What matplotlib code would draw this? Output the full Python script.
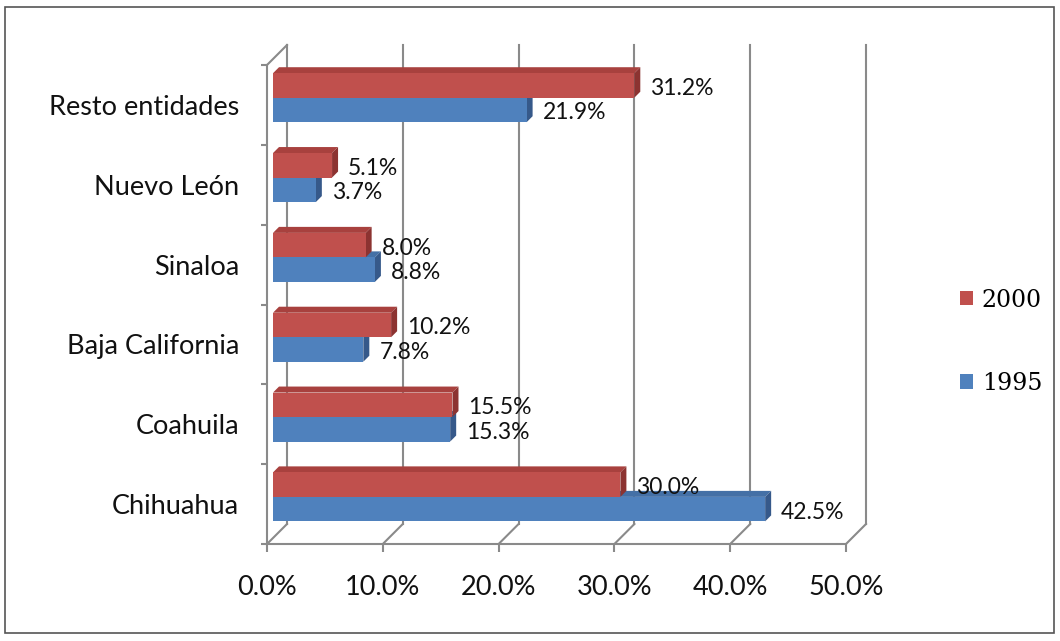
import matplotlib.pyplot as plt
from matplotlib.patches import Polygon, Patch, Rectangle

# Data
categories = ["Chihuahua", "Coahuila", "Baja California", "Sinaloa",
              "Nuevo León", "Resto entidades"]
values_2000 = [30.0, 15.5, 10.2, 8.0, 5.1, 31.2]
values_1995 = [42.5, 15.3, 7.8, 8.8, 3.7, 21.9]
x_ticks = [0, 10, 20, 30, 40, 50]
x_tick_labels = ["0.0%", "10.0%", "20.0%", "30.0%", "40.0%", "50.0%"]
series_labels = ["2000", "1995"]

# Styling
RED = "#C0504D"
RED_TOP = "#A8413E"
RED_SIDE = "#8C3331"
BLUE = "#4F81BD"
BLUE_TOP = "#4470A6"
BLUE_SIDE = "#36598A"
AXIS_COLOR = "#8A8A8A"
TEXT_COLOR = "#111111"
FONT = ["Lato", "DejaVu Sans"]

W, H, DPI = 1060, 641, 100
# front plane of the plot, in pixels (image coordinates)
LEFT_PX, RIGHT_PX, TOP_PX, BOTTOM_PX = 267, 846, 65, 544

XMIN, XMAX = 0, 50
YMIN, YMAX = -0.5, len(categories) - 0.5
PX_X = (XMAX - XMIN) / (RIGHT_PX - LEFT_PX)   # data units per pixel
PX_Y = (YMAX - YMIN) / (BOTTOM_PX - TOP_PX)

WALL_DEPTH = 20        # px offset of the back wall
BAR_SHIFT = 6          # px offset of the bar front face
BAR_DEPTH = 6          # px depth of the bars
BAR_H = 24.5 * PX_Y

fig = plt.figure(figsize=(W / DPI, H / DPI), dpi=DPI)
ax = fig.add_axes([LEFT_PX / W, 1 - BOTTOM_PX / H,
                   (RIGHT_PX - LEFT_PX) / W, (BOTTOM_PX - TOP_PX) / H])
ax.set_xlim(XMIN, XMAX)
ax.set_ylim(YMIN, YMAX)
ax.patch.set_visible(False)

wx, wy = WALL_DEPTH * PX_X, WALL_DEPTH * PX_Y

# back wall gridlines and floor diagonals
for xv in x_ticks:
    ax.plot([xv + wx, xv + wx], [YMIN + wy, YMAX + wy], color=AXIS_COLOR,
            lw=1.5, clip_on=False, zorder=1)
    ax.plot([xv, xv + wx], [YMIN, YMIN + wy], color=AXIS_COLOR,
            lw=1.5, clip_on=False, zorder=1)
ax.plot([0, wx], [YMAX, YMAX + wy], color=AXIS_COLOR, lw=1.5,
        clip_on=False, zorder=1)


def draw_bar(val, y0, face, top, side):
    bx, by = BAR_SHIFT * PX_X, BAR_SHIFT * 1.2 * PX_Y
    dx, dy = BAR_DEPTH * PX_X, BAR_DEPTH * PX_Y
    x0, x1 = bx, bx + val
    b, t = y0 + by, y0 + by + BAR_H
    ax.add_patch(Polygon([(x0, t), (x1, t), (x1 + dx, t + dy), (x0 + dx, t + dy)],
                         closed=True, fc=top, ec="none", zorder=3,
                         clip_on=False))
    ax.add_patch(Polygon([(x1, b), (x1, t), (x1 + dx, t + dy), (x1 + dx, b + dy)],
                         closed=True, fc=side, ec="none", zorder=3,
                         clip_on=False))
    ax.add_patch(Rectangle((x0, b), val, BAR_H, fc=face, ec="none",
                           zorder=3, clip_on=False))
    ax.text(x1 + dx + 10 * PX_X, (b + t) / 2 - 3 * PX_Y, f"{val:.1f}%",
            ha="left", va="center", fontsize=16.5, family=FONT,
            color=TEXT_COLOR, zorder=5)


for i in range(len(categories)):
    draw_bar(values_1995[i], i - BAR_H, BLUE, BLUE_TOP, BLUE_SIDE)
    draw_bar(values_2000[i], i, RED, RED_TOP, RED_SIDE)

# axes and ticks
for s in ["top", "right"]:
    ax.spines[s].set_visible(False)
for s in ["left", "bottom"]:
    ax.spines[s].set_color(AXIS_COLOR)
    ax.spines[s].set_linewidth(1.5)
    ax.spines[s].set_zorder(4)

ax.set_xticks(x_ticks)
ax.set_xticklabels(x_tick_labels, fontsize=19.5, family=FONT, color=TEXT_COLOR)
ax.tick_params(axis="x", length=6, width=1.5, color=AXIS_COLOR, pad=16)

ax.set_yticks(range(len(categories)))
ax.set_yticklabels(categories, fontsize=19.5, family=FONT, color=TEXT_COLOR)
ax.set_yticks([k - 0.5 for k in range(len(categories) + 1)], minor=True)
ax.tick_params(axis="y", which="major", length=0, pad=20)
ax.tick_params(axis="y", which="minor", length=4, width=1.5, color=AXIS_COLOR)

# legend
handles = [Patch(fc=RED, ec="none"), Patch(fc=BLUE, ec="none")]
fig.legend(handles, series_labels, loc="center left",
           bbox_to_anchor=(0.886, 0.467), frameon=False,
           prop={"family": ["DejaVu Serif"], "size": 17},
           handlelength=0.55, handleheight=0.55, handletextpad=0.35,
           labelspacing=2.55)

# outer border
fig.add_artist(Rectangle((5 / W, 1 - 633 / H), 1049 / W, 626 / H,
                         transform=fig.transFigure, fill=False,
                         ec="#555555", lw=1.2))

fig.savefig("out.png", dpi=DPI, facecolor="white")
